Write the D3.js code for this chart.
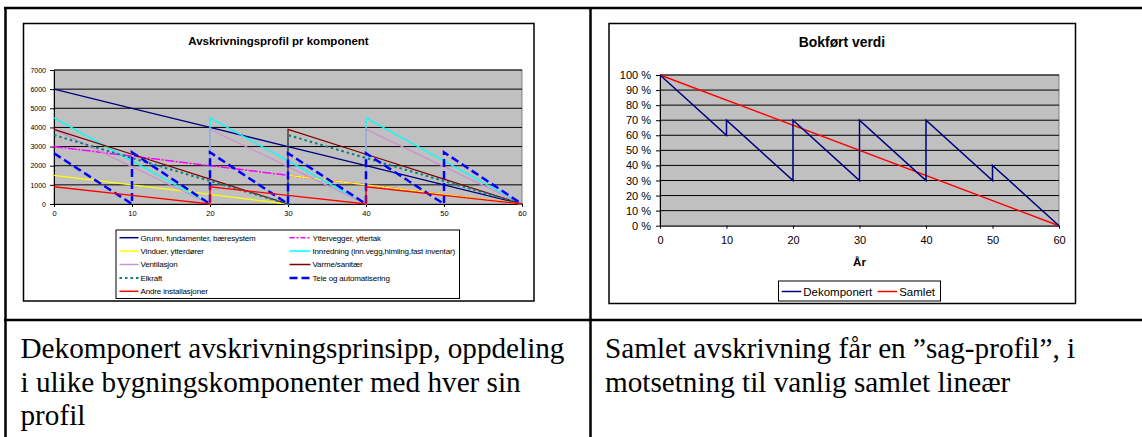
<!DOCTYPE html>
<html>
<head>
<meta charset="utf-8">
<script src="https://cdn.jsdelivr.net/npm/d3@7"></script>
<style>
  body { margin: 0; background: #fff; }
  svg text { font-family: "Liberation Sans", Arial, sans-serif; }
  .cell { font-family: "Liberation Serif", "Times New Roman", serif; font-size: 29.2px; fill: #000; }
</style>
</head>
<body>
<svg id="page" width="1142" height="437"></svg>
<script>
// ---- data ----
const years = [0, 10, 20, 30, 40, 50, 60];
const leftTicks = [0, 1000, 2000, 3000, 4000, 5000, 6000, 7000];
const pctTicks = [0, 10, 20, 30, 40, 50, 60, 70, 80, 90, 100];

// [år, verdi] per komponent
const grunn = [[0,6000],[10,5000],[20,4000],[30,3000],[40,2000],[50,1000],[60,0]];
const yttervegger = [[0,3000],[10,2500],[20,2000],[30,1500],[40,1000],[50,500],[60,0]];
const vinduer = [[0,1500],[10,1000],[20,500],[30,0],[30,1500],[40,1000],[50,500],[60,0]];
const innredning = [[0,4500],[10,2250],[20,0],[20,4500],[30,2250],[40,0],[40,4500],[50,2250],[60,0]];
const ventilasjon = [[0,3900],[10,1950],[20,0],[20,3900],[30,1950],[40,0],[40,3900],[50,1950],[60,0]];
const varme = [[0,3900],[10,2600],[20,1300],[30,0],[30,3900],[40,2600],[50,1300],[60,0]];
const elkraft = [[0,3600],[10,2400],[20,1200],[30,0],[30,3600],[40,2400],[50,1200],[60,0]];
const tele = [[0,2650],[10,0],[10,2700],[20,0],[20,2700],[30,0],[30,2650],[40,0],[40,2650],[50,0],[50,2700],[60,0]];
const andre = [[0,900],[10,450],[20,0],[20,900],[30,450],[40,0],[40,900],[50,450],[60,0]];

const dekomponert = [[0,100],[10,60],[10,70],[20,30],[20,70],[30,30],[30,70],[40,30],[40,70],[50,30],[50,40],[60,0]];
const samlet = [[0,100],[60,0]];

const leftNames = ["Grunn, fundamenter, bæresystem", "Yttervegger, yttertak", "Vinduer, ytterdører",
  "Innredning (inn.vegg,himling,fast inventar)", "Ventilasjon", "Varme/sanitær", "Elkraft",
  "Tele og automatisering", "Andre installasjoner"];
const leftData = [grunn, yttervegger, vinduer, innredning, ventilasjon, varme, elkraft, tele, andre];
const leftStyle = [
  {c: "#000080", w: 1.3, d: null},
  {c: "#FF00FF", w: 1.5, d: "9,1.5,2,1.5"},
  {c: "#FFFF00", w: 1.3, d: null},
  {c: "#00FFFF", w: 1.3, d: null},
  {c: "#CC92CC", w: 1.3, d: null},
  {c: "#800000", w: 1.2, d: null},
  {c: "#008080", w: 2, d: "2.5,3"},
  {c: "#0000FF", w: 2.5, d: "8,4"},
  {c: "#FF0000", w: 1.3, d: null}
];

const svg = d3.select("#page");
svg.append("rect").attr("width", 1142).attr("height", 437).attr("fill", "#fff");

// ---- table lines ----
const tbl = svg.append("g").attr("stroke", "#000").attr("stroke-width", 2.5);
tbl.append("line").attr("x1", 4).attr("x2", 1142).attr("y1", 8).attr("y2", 8);
tbl.append("line").attr("x1", 5.5).attr("x2", 5.5).attr("y1", 7).attr("y2", 437);
tbl.append("line").attr("x1", 590.5).attr("x2", 590.5).attr("y1", 7).attr("y2", 437);
tbl.append("line").attr("x1", 4).attr("x2", 1142).attr("y1", 320).attr("y2", 320);

// ---- left chart ----
svg.append("rect").attr("x", 23.5).attr("y", 23.5).attr("width", 510.5).attr("height", 277.5)
  .attr("fill", "#fff").attr("stroke", "#000").attr("stroke-width", 1.5);
svg.append("text").attr("x", 278.5).attr("y", 44.5).attr("text-anchor", "middle")
  .attr("font-size", 11.5).attr("font-weight", "bold").text("Avskrivningsprofil pr komponent");

const xL = d3.scaleLinear().domain([0, 60]).range([54, 522]);
const yL = d3.scaleLinear().domain([0, 7000]).range([204, 70]);

svg.append("rect").attr("x", xL(0)).attr("y", yL(7000)).attr("width", xL(60) - xL(0))
  .attr("height", yL(0) - yL(7000)).attr("fill", "#C0C0C0").attr("stroke", "#808080");
svg.append("g").selectAll("line").data(leftTicks.filter(d => d > 0)).join("line")
  .attr("x1", xL(0)).attr("x2", xL(60)).attr("y1", d => yL(d)).attr("y2", d => yL(d))
  .attr("stroke", "#000").attr("stroke-width", 1);

const axL = svg.append("g").attr("transform", `translate(${xL(0)},0)`)
  .call(d3.axisLeft(yL).tickValues(leftTicks).tickSize(4).tickSizeOuter(0).tickFormat(d3.format("d")));
const axLB = svg.append("g").attr("transform", `translate(0,${yL(0)})`)
  .call(d3.axisBottom(xL).tickValues(years).tickSize(3).tickSizeOuter(0).tickFormat(d3.format("d")));
[axL, axLB].forEach(a => {
  a.selectAll("path, line").attr("stroke", "#000");
  a.selectAll("text").attr("font-family", "Liberation Sans, Arial, sans-serif").attr("fill", "#000");
});
axL.selectAll("text").attr("font-size", 7).attr("dx", "-1");
axLB.selectAll("text").attr("font-size", 7.5).attr("dy", "0.9em").attr("y", 5);

const lineL = d3.line().x(d => xL(d[0])).y(d => yL(d[1]));
svg.append("g").selectAll("path").data(leftData).join("path")
  .attr("d", lineL).attr("fill", "none")
  .attr("stroke", (d, i) => leftStyle[i].c)
  .attr("stroke-width", (d, i) => leftStyle[i].w)
  .attr("stroke-dasharray", (d, i) => leftStyle[i].d);

// legend left
svg.append("rect").attr("x", 116).attr("y", 230).attr("width", 343.5).attr("height", 68.5)
  .attr("fill", "#fff").attr("stroke", "#000").attr("stroke-width", 1);
const legL = svg.append("g").selectAll("g").data(leftNames).join("g")
  .attr("transform", (d, i) => `translate(${i % 2 ? 289.5 : 119.5},${237.7 + Math.floor(i / 2) * 13.4})`);
legL.append("line").attr("x1", 0).attr("x2", (d, i) => i % 2 ? 21 : 19).attr("y1", 0).attr("y2", 0)
  .attr("stroke", (d, i) => leftStyle[i].c)
  .attr("stroke-width", (d, i) => Math.max(leftStyle[i].w, 1.5))
  .attr("stroke-dasharray", (d, i) => i === 1 ? "5,2,2,2" : leftStyle[i].d);
legL.append("text").attr("x", (d, i) => i % 2 ? 23 : 21).attr("y", 2.8)
  .attr("font-size", 8).attr("letter-spacing", -0.15).text(d => d);

// ---- right chart ----
svg.append("rect").attr("x", 609).attr("y", 23.5).attr("width", 466.5).attr("height", 280)
  .attr("fill", "#fff").attr("stroke", "#000").attr("stroke-width", 1.5);
svg.append("text").attr("x", 842).attr("y", 46.5).attr("text-anchor", "middle")
  .attr("font-size", 13.9).attr("font-weight", "bold").text("Bokført verdi");

const xR = d3.scaleLinear().domain([0, 60]).range([660, 1059]);
const yR = d3.scaleLinear().domain([0, 100]).range([225.7, 75]);

svg.append("rect").attr("x", xR(0)).attr("y", yR(100)).attr("width", xR(60) - xR(0))
  .attr("height", yR(0) - yR(100)).attr("fill", "#C0C0C0").attr("stroke", "#808080");
svg.append("g").selectAll("line").data(pctTicks.filter(d => d > 0)).join("line")
  .attr("x1", xR(0)).attr("x2", xR(60)).attr("y1", d => yR(d)).attr("y2", d => yR(d))
  .attr("stroke", "#000").attr("stroke-width", 1);

const axR = svg.append("g").attr("transform", `translate(${xR(0)},0)`)
  .call(d3.axisLeft(yR).tickValues(pctTicks).tickSize(4).tickSizeOuter(0).tickFormat(d => d + " %"));
const axRB = svg.append("g").attr("transform", `translate(0,${yR(0)})`)
  .call(d3.axisBottom(xR).tickValues(years).tickSize(3).tickSizeOuter(0).tickFormat(d3.format("d")));
[axR, axRB].forEach(a => {
  a.selectAll("path, line").attr("stroke", "#000");
  a.selectAll("text").attr("font-family", "Liberation Sans, Arial, sans-serif").attr("fill", "#000").attr("font-size", 11);
});
axR.selectAll("text").attr("dx", "-2");
axRB.selectAll("text").attr("y", 11);
svg.append("text").attr("x", 859.5).attr("y", 266).attr("text-anchor", "middle")
  .attr("font-size", 11.5).attr("font-weight", "bold").text("År");

const lineR = d3.line().x(d => xR(d[0])).y(d => yR(d[1]));
svg.append("path").datum(samlet).attr("d", lineR).attr("fill", "none").attr("stroke", "#FF0000").attr("stroke-width", 1.5);
svg.append("path").datum(dekomponert).attr("d", lineR).attr("fill", "none").attr("stroke", "#000080").attr("stroke-width", 1.5);

// legend right
svg.append("rect").attr("x", 778.5).attr("y", 281).attr("width", 162).attr("height", 20)
  .attr("fill", "#fff").attr("stroke", "#000").attr("stroke-width", 1);
const legR = svg.append("g").selectAll("g")
  .data([{n: "Dekomponert", c: "#000080", x: 781.7}, {n: "Samlet", c: "#FF0000", x: 877.7}]).join("g")
  .attr("transform", d => `translate(${d.x},291.5)`);
legR.append("line").attr("x1", 0).attr("x2", 19.5).attr("stroke", d => d.c).attr("stroke-width", 1.5);
legR.append("text").attr("x", 21.5).attr("y", 4).attr("font-size", 11.5).text(d => d.n);

// ---- cell text ----
const leftText = ["Dekomponert avskrivningsprinsipp, oppdeling", "i ulike bygningskomponenter med hver sin", "profil"];
const rightText = ["Samlet avskrivning får en ”sag-profil”, i", "motsetning til vanlig samlet lineær"];
svg.append("g").selectAll("text").data(leftText).join("text").attr("class", "cell")
  .attr("x", 20.5).attr("y", (d, i) => 357.7 + i * 33.8).text(d => d);
svg.append("g").selectAll("text").data(rightText).join("text").attr("class", "cell")
  .attr("x", 605).attr("y", (d, i) => 358.3 + i * 33.8).text(d => d);
</script>
</body>
</html>
